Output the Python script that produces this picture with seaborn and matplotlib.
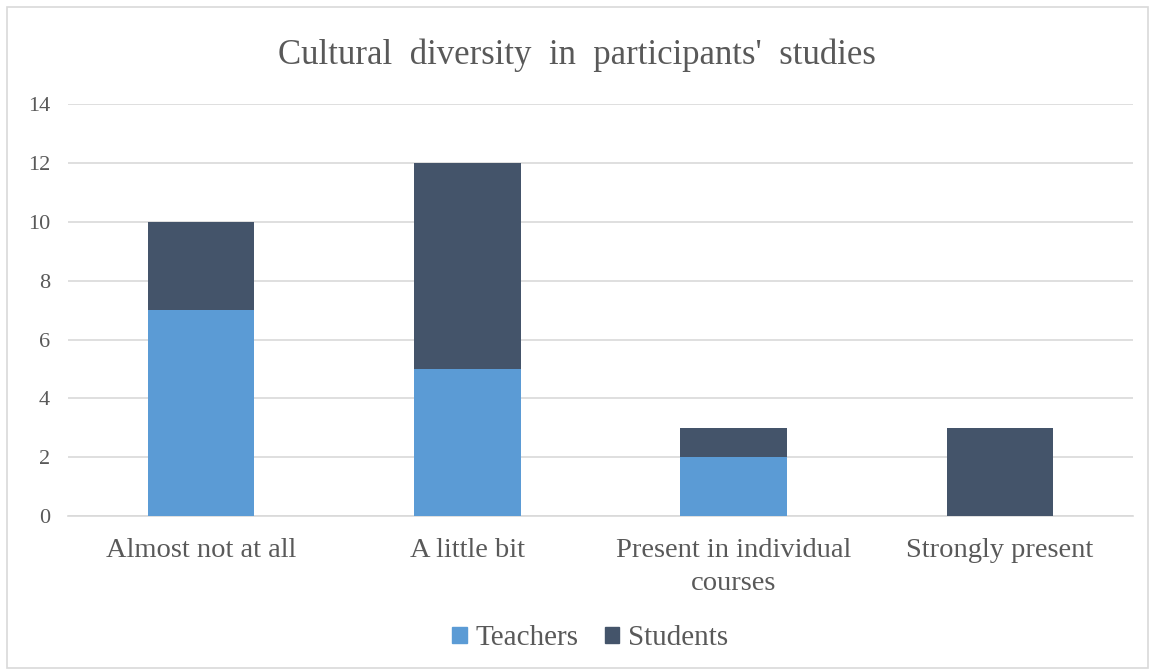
import matplotlib
matplotlib.use("Agg")
import matplotlib.pyplot as plt
import seaborn as sns
import pandas as pd
from matplotlib.patches import Rectangle, Patch

categories = ["Almost not at all", "A little bit", "Present in individual\ncourses", "Strongly present"]
teachers = [7, 5, 2, 0]
students = [3, 7, 1, 3]
yticks = [0, 2, 4, 6, 8, 10, 12, 14]

c_teach = "#5B9BD5"
c_stud = "#44546A"
txt = "#595959"

sns.set_theme(style="white")
plt.rcParams['font.family'] = ['Liberation Serif', 'DejaVu Serif']

df = pd.DataFrame({"cat": categories, "Teachers": teachers, "Students": students})

fig = plt.figure(figsize=(11.53, 6.72), dpi=100)
ax = fig.add_axes([0.059, 0.232, 0.9237, 0.613])

sns.barplot(data=df, x="cat", y="Teachers", color=c_teach, width=0.4, ax=ax, saturation=1,
            zorder=3, linewidth=0)
sns.barplot(data=df, x="cat", y="Students", color=c_stud, width=0.4, ax=ax, saturation=1,
            bottom=df["Teachers"], zorder=3, linewidth=0)

ax.set_ylim(0, 14)
ax.set_xlim(-0.5, 3.5)
ax.set_yticks(yticks)
ax.yaxis.grid(True, color="#D9D9D9", linewidth=1.2, zorder=0)
ax.set_axisbelow(True)
for s in ["top", "right", "left"]:
    ax.spines[s].set_visible(False)
ax.spines["bottom"].set_color("#D9D9D9")
ax.spines["bottom"].set_linewidth(1.2)
ax.tick_params(axis="both", length=0, colors=txt)
ax.tick_params(axis="y", labelsize=16, pad=13)
ax.tick_params(axis="x", labelsize=20.5, pad=16)
ax.set_xlabel("")
ax.set_ylabel("")
for lab in ax.get_xticklabels():
    lab.set_linespacing(1.4)

fig.suptitle("Cultural  diversity  in  participants'  studies", y=0.942, fontsize=25, color=txt)

handles = [Patch(color=c_teach, label="Teachers"), Patch(color=c_stud, label="Students")]
fig.legend(handles=handles, loc="center", bbox_to_anchor=(0.512, 0.05), ncol=2, frameon=False,
           fontsize=21, handlelength=0.5, handleheight=0.5, handletextpad=0.3, columnspacing=0.9,
           labelcolor=txt)

fig.patches.append(Rectangle((0.006, 0.006), 0.99, 0.984, transform=fig.transFigure,
                             fill=False, edgecolor="#D9D9D9", linewidth=1.2))

fig.savefig("out.png", dpi=100)
